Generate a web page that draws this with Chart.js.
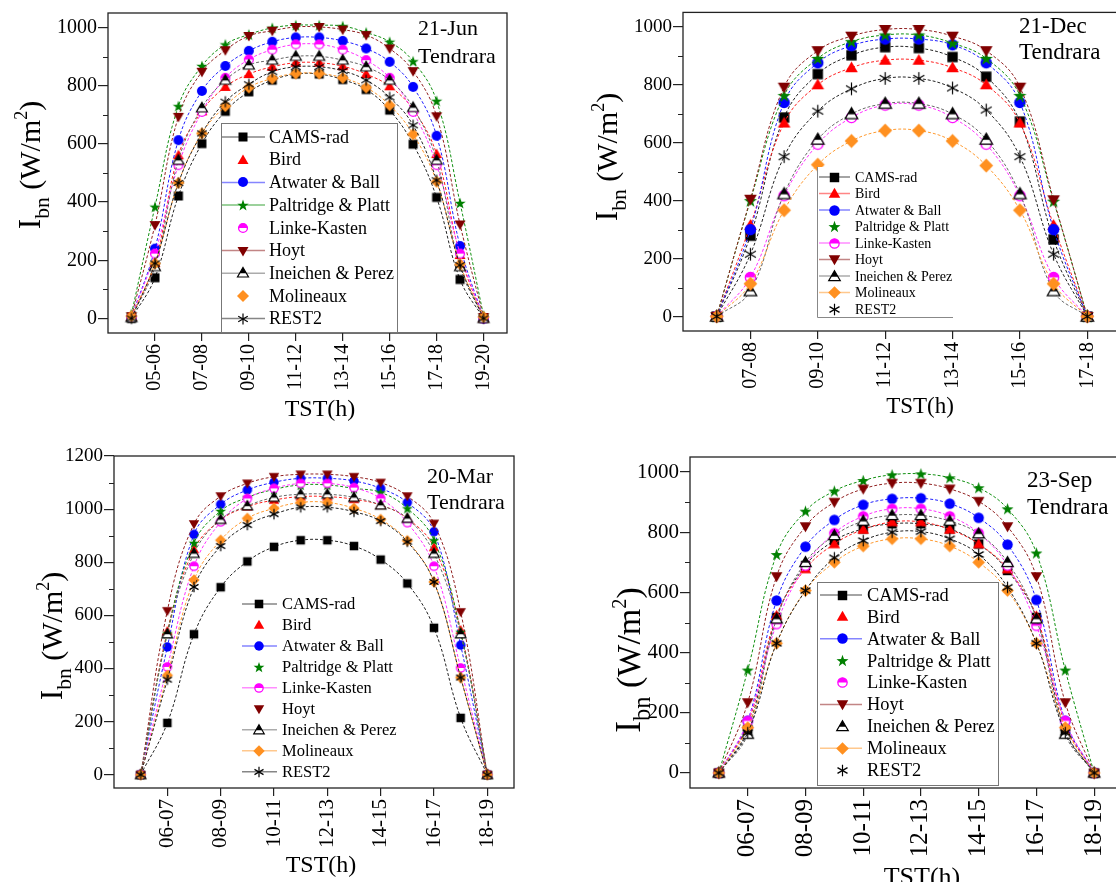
<!DOCTYPE html>
<html><head><meta charset="utf-8">
<script src="https://cdn.jsdelivr.net/npm/chart.js@4.4.1/dist/chart.umd.min.js"></script>
<style>
html,body{margin:0;padding:0;background:#fff;overflow:hidden;width:1116px;height:882px;}
canvas{position:absolute;}
</style></head><body>
<canvas id="c1" width="558" height="441" style="left:0;top:0"></canvas>
<canvas id="c2" width="600" height="441" style="left:558px;top:0"></canvas>
<canvas id="c3" width="558" height="441" style="left:0;top:441px"></canvas>
<canvas id="c4" width="600" height="441" style="left:558px;top:441px"></canvas>
<script>
// ---------- series meta ----------
const seriesNames = ['CAMS-rad','Bird','Atwater & Ball','Paltridge & Platt','Linke-Kasten','Hoyt','Ineichen & Perez','Molineaux','REST2'];
const seriesColors = ['#000000','#ff0000','#0000ff','#008000','#ff00ff','#800000','#000000','#ff9020','#000000'];
const lineColors   = ['#222222','#ff2020','#2020ff','#109010','#ff30ff','#902020','#666666','#ff9a30','#222222'];
const seriesMarkers = ['square','triangle','circle','star','halfCircle','triangleDown','halfTriangle','diamond','asterisk'];

// ---------- 21-Jun ----------
const junHours = [4,5,6,7,8,9,10,11,12,13,14,15,16,17,18,19];
const junCAMS  = [0,140,421,601,712,779,819,840,840,821,787,716,599,416,134,0];
const junBird  = [5,190,561,712,796,840,865,879,879,867,840,798,718,565,218,0];
const junAtw   = [5,240,613,782,868,920,951,966,966,954,928,882,796,628,249,0];
const junPalt  = [15,384,730,868,942,976,999,1008,1008,1005,983,951,884,748,397,10];
const junLinke = [5,223,527,710,827,890,924,942,942,924,888,827,710,527,223,0];
const junHoyt  = [8,321,693,848,922,971,989,1002,1002,993,974,928,850,695,323,5];
const junIne   = [3,178,544,724,819,871,888,901,901,888,865,819,725,544,178,0];
const junMol   = [8,189,466,636,730,794,825,842,842,827,794,733,633,470,186,5];
const junRest  = [0,189,466,636,745,805,848,865,865,851,819,760,664,475,183,0];
const junTickHours  = [5,7,9,11,13,15,17,19];
const junTickLabels = ['05-06','07-08','09-10','11-12','13-14','15-16','17-18','19-20'];

// ---------- 21-Dec ----------
const decHours = [6,7,8,9,10,11,12,13,14,15,16,17];
const decCAMS  = [0,279,687,837,902,930,927,896,828,673,266,0];
const decBird  = [0,315,668,800,859,885,885,859,800,668,315,0];
const decAtw   = [0,300,739,876,935,958,958,938,876,739,300,0];
const decPalt  = [0,400,763,891,949,972,972,944,891,763,398,0];
const decLinke = [0,135,417,595,687,730,730,687,595,417,135,0];
const decHoyt  = [0,405,792,918,968,991,991,968,918,792,403,0];
const decIne   = [0,88,423,611,699,735,735,699,611,423,88,0];
const decMol   = [0,113,367,524,606,642,642,606,521,367,113,0];
const decRest  = [0,215,552,709,786,822,822,789,713,552,215,0];
const decTickHours  = [7,9,11,13,15,17];
const decTickLabels = ['07-08','09-10','11-12','13-14','15-16','17-18'];

// ---------- 20-Mar ----------
const marHours = [5,6,7,8,9,10,11,12,13,14,15,16,17,18];
const marCAMS  = [0,195,529,706,803,858,883,883,861,810,720,553,214,0];
const marBird  = [0,540,848,959,1009,1034,1047,1047,1037,1015,965,856,544,0];
const marAtw   = [0,481,905,1018,1072,1101,1116,1116,1106,1078,1025,915,488,0];
const marPalt  = [0,532,873,993,1044,1074,1091,1091,1078,1063,1003,883,538,0];
const marLinke = [0,406,785,952,1040,1078,1097,1097,1081,1040,949,785,402,0];
const marHoyt  = [0,617,944,1049,1097,1122,1131,1131,1122,1100,1049,946,613,0];
const marIne   = [0,530,833,961,1012,1044,1056,1056,1044,1015,965,833,530,0];
const marMol   = [0,374,733,883,965,1003,1025,1025,1003,961,881,726,366,0];
const marRest  = [0,358,707,861,940,981,1007,1007,990,955,877,726,366,0];
const marTickHours  = [6,8,10,12,14,16,18];
const marTickLabels = ['06-07','08-09','10-11','12-13','14-15','16-17','18-19'];

// ---------- 23-Sep ----------
const sepHours = [5,6,7,8,9,10,11,12,13,14,15,16,17,18];
const sepCAMS  = [0,145,517,689,772,811,828,828,811,761,673,517,142,0];
const sepBird  = [0,162,523,678,761,809,834,834,809,761,678,521,162,0];
const sepAtw   = [0,173,573,752,841,891,911,913,895,848,759,575,173,0];
const sepPalt  = [0,342,726,870,937,972,991,994,981,948,878,731,342,0];
const sepLinke = [0,173,495,689,797,853,878,878,853,797,689,489,173,0];
const sepHoyt  = [0,234,653,819,900,944,963,963,944,903,819,653,234,0];
const sepIne   = [0,129,512,700,789,837,856,856,837,795,700,512,129,0];
const sepMol   = [0,151,431,606,700,754,778,778,754,700,606,431,151,0];
const sepRest  = [0,134,431,606,715,772,800,802,778,726,617,431,134,0];
const sepTickHours  = [6,8,10,12,14,16,18];
const sepTickLabels = ['06-07','08-09','10-11','12-13','14-15','16-17','18-19'];

const yTicks1000 = [0,200,400,600,800,1000];
const yTicks1200 = [0,200,400,600,800,1000,1200];

const FONT = '"Liberation Serif","Times New Roman",serif';
Chart.defaults.font.family = FONT;

// ---------- markers ----------
function makeMarker(type, color, s) {
  const n = Math.ceil(s * 1.4) + 4;
  const c = document.createElement('canvas');
  c.width = n; c.height = n;
  const g = c.getContext('2d');
  const m = n / 2, r = s / 2;
  g.fillStyle = color; g.strokeStyle = color; g.lineWidth = 1;
  const poly = (pts) => { g.beginPath(); pts.forEach((p, i) => i ? g.lineTo(p[0], p[1]) : g.moveTo(p[0], p[1])); g.closePath(); };
  if (type === 'square') {
    g.fillRect(m - r * 0.9, m - r * 0.9, r * 1.8, r * 1.8);
  } else if (type === 'triangle') {
    poly([[m, m - r * 1.1], [m + r * 1.1, m + r * 0.8], [m - r * 1.1, m + r * 0.8]]); g.fill();
  } else if (type === 'triangleDown') {
    poly([[m, m + r * 1.1], [m + r * 1.1, m - r * 0.8], [m - r * 1.1, m - r * 0.8]]); g.fill();
  } else if (type === 'circle') {
    g.beginPath(); g.arc(m, m, r, 0, Math.PI * 2); g.fill();
  } else if (type === 'star') {
    const pts = [];
    for (let i = 0; i < 10; i++) {
      const a = -Math.PI / 2 + i * Math.PI / 5;
      const rr = i % 2 ? r * 0.48 : r * 1.2;
      pts.push([m + rr * Math.cos(a), m + 0.6 + rr * Math.sin(a)]);
    }
    poly(pts); g.fill();
  } else if (type === 'halfCircle') {
    g.fillStyle = '#fff'; g.beginPath(); g.arc(m, m, r - 0.5, 0, Math.PI * 2); g.fill();
    g.fillStyle = color; g.beginPath(); g.arc(m, m, r - 0.5, Math.PI, Math.PI * 2); g.closePath(); g.fill();
    g.lineWidth = 1.3; g.beginPath(); g.arc(m, m, r - 0.6, 0, Math.PI * 2); g.stroke();
  } else if (type === 'halfTriangle') {
    const pts = [[m, m - r * 1.1], [m + r * 1.1, m + r * 0.8], [m - r * 1.1, m + r * 0.8]];
    g.fillStyle = '#fff'; poly(pts); g.fill();
    g.save(); g.beginPath(); g.rect(0, 0, n, m + r * 0.05); g.clip();
    g.fillStyle = color; poly(pts); g.fill(); g.restore();
    g.lineWidth = 1.2; poly(pts); g.stroke();
  } else if (type === 'diamond') {
    poly([[m, m - r * 1.2], [m + r * 1.2, m], [m, m + r * 1.2], [m - r * 1.2, m]]); g.fill();
  } else if (type === 'asterisk') {
    g.lineWidth = 1.2;
    for (let i = 0; i < 3; i++) {
      const a = Math.PI / 2 + i * Math.PI / 3;
      g.beginPath();
      g.moveTo(m + r * 1.1 * Math.cos(a), m + r * 1.1 * Math.sin(a));
      g.lineTo(m - r * 1.1 * Math.cos(a), m - r * 1.1 * Math.sin(a));
      g.stroke();
    }
  }
  return c;
}

// ---------- chart definitions ----------
const defs = [
  { id: 'c1', ox: 0, oy: 0, hours: junHours,
    series: [junCAMS, junBird, junAtw, junPalt, junLinke, junHoyt, junIne, junMol, junRest],
    xMin: 3, xMax: 20, yMin: -50, yMax: 1050, xTicks: junTickHours, xLabels: junTickLabels,
    yTicks: yTicks1000, pad: { left: 0, top: 13, right: 51, bottom: 0 }, yW: 108, xH: 108,
    ms: 10, xFont: 20, yFont: 20,
    date: { x: 418, y: [29, 57], size: 22, lines: ['21-Jun', 'Tendrara'] },
    yTitle: { cy: 165, base: 40, size: 30 },
    xTitle: { x: 320, y: 410, size: 24 },
    legend: { box: [221, 123, 397, 332], border: 'all', y0: 137, dy: 22.7, mx: 243, lx: [222, 265], tx: 269, size: 18,
      lines: [1, 0, 1, 1, 0, 1, 1, 0, 1], ms: 10 } },
  { id: 'c2', ox: 558, oy: 0, hours: decHours,
    series: [decCAMS, decBird, decAtw, decPalt, decLinke, decHoyt, decIne, decMol, decRest],
    xMin: 5, xMax: 18, yMin: -50, yMax: 1050, xTicks: decTickHours, xLabels: decTickLabels,
    yTicks: yTicks1000, pad: { left: 0, top: 5, right: 37, bottom: 0 }, yW: 125, xH: 110,
    ms: 11.5, xFont: 20, yFont: 19,
    date: { x: 1019, y: [27, 53], size: 23, lines: ['21-Dec', 'Tendrara'] },
    yTitle: { cy: 157, base: 617, size: 30 },
    xTitle: { x: 920, y: 407, size: 23 },
    legend: { box: [817, 167, 953, 317], border: 'lb', y0: 177, dy: 16.5, mx: 834, lx: [819, 850], tx: 855, size: 14,
      lines: [1, 1, 1, 0, 1, 1, 1, 1, 0], ms: 10.5 } },
  { id: 'c3', ox: 0, oy: 441, hours: marHours,
    series: [marCAMS, marBird, marAtw, marPalt, marLinke, marHoyt, marIne, marMol, marRest],
    xMin: 4, xMax: 19, yMin: -50, yMax: 1200, xTicks: marTickHours, xLabels: marTickLabels,
    yTicks: yTicks1200, pad: { left: 0, top: 15, right: 44, bottom: 0 }, yW: 114, xH: 94,
    ms: 9.5, xFont: 21, yFont: 19,
    date: { x: 427, y: [477, 503], size: 22, lines: ['20-Mar', 'Tendrara'] },
    yTitle: { cy: 636, base: 62, size: 30 },
    xTitle: { x: 321, y: 866, size: 24 },
    legend: { box: null, border: 'none', y0: 604, dy: 20.96, mx: 259, lx: [242, 277], tx: 282, size: 16.5,
      lines: [1, 0, 1, 0, 1, 0, 1, 1, 1], ms: 9.5 } },
  { id: 'c4', ox: 558, oy: 441, hours: sepHours,
    series: [sepCAMS, sepBird, sepAtw, sepPalt, sepLinke, sepHoyt, sepIne, sepMol, sepRest],
    xMin: 4, xMax: 19, yMin: -50, yMax: 1050, xTicks: sepTickHours, xLabels: sepTickLabels,
    yTicks: yTicks1000, pad: { left: 0, top: 16, right: 35, bottom: 0 }, yW: 132, xH: 94,
    ms: 10.5, xFont: 25, yFont: 21,
    date: { x: 1027, y: [481, 508], size: 23, lines: ['23-Sep', 'Tendrara'] },
    yTitle: { cy: 660, base: 640, size: 34 },
    xTitle: { x: 922, y: 878, size: 26 },
    legend: { box: [817, 582, 998, 785], border: 'all', y0: 595, dy: 21.9, mx: 842, lx: [820, 862], tx: 867, size: 18.4,
      lines: [1, 0, 1, 0, 0, 1, 0, 1, 0], ms: 10.5 } }
];

function drawYTitle(ctx, cx, cy, size) {
  // rotated: "I" + sub "bn" + " (W/m" + sup "2" + ")"
  const parts = [
    { t: 'I', f: size * 1.05, dy: 0 },
    { t: 'bn', f: size * 0.72, dy: size * 0.3 },
    { t: ' (W/m', f: size, dy: 0 },
    { t: '2', f: size * 0.6, dy: -size * 0.42 },
    { t: ')', f: size, dy: 0 }
  ];
  ctx.save();
  let total = 0;
  parts.forEach(p => { ctx.font = p.f + 'px ' + FONT; p.w = ctx.measureText(p.t).width; total += p.w; });
  ctx.translate(cx, cy);
  ctx.rotate(-Math.PI / 2);
  ctx.fillStyle = '#000';
  ctx.textBaseline = 'alphabetic';
  ctx.textAlign = 'left';
  let x = -total / 2;
  parts.forEach(p => { ctx.font = p.f + 'px ' + FONT; ctx.fillText(p.t, x, p.dy); x += p.w; });
  ctx.restore();
}

function makeExtras(d) {
  return {
    id: 'extras_' + d.id,
    afterDraw(chart) {
      const ctx = chart.ctx, a = chart.chartArea;
      const ox = d.ox, oy = d.oy;
      const ys = chart.scales.y;
      ctx.save();
      // frame
      ctx.strokeStyle = '#222'; ctx.lineWidth = 1.3;
      ctx.strokeRect(a.left, a.top, a.right - a.left, a.bottom - a.top);
      // minor y ticks
      ctx.lineWidth = 1;
      for (let i = 0; i < d.yTicks.length - 1; i++) {
        const v = (d.yTicks[i] + d.yTicks[i + 1]) / 2;
        const py = Math.round(ys.getPixelForValue(v)) + 0.5;
        ctx.beginPath(); ctx.moveTo(a.left - 5, py); ctx.lineTo(a.left, py); ctx.stroke();
      }
      // date text
      ctx.fillStyle = '#000'; ctx.textAlign = 'left'; ctx.textBaseline = 'middle';
      ctx.font = d.date.size + 'px ' + FONT;
      d.date.lines.forEach((t, i) => ctx.fillText(t, d.date.x - ox, d.date.y[i] - oy));
      // x title
      ctx.textAlign = 'center';
      ctx.font = d.xTitle.size + 'px ' + FONT;
      ctx.fillText('TST(h)', d.xTitle.x - ox, d.xTitle.y - oy);
      // y title
      drawYTitle(ctx, d.yTitle.base - ox, d.yTitle.cy - oy, d.yTitle.size);
      // legend
      const L = d.legend;
      if (L.box) {
        const [x0, y0, x1, y1] = L.box;
        if (L.border === 'all') {
          ctx.fillStyle = '#fff';
          ctx.fillRect(x0 - ox, y0 - oy, x1 - x0, y1 - y0);
          ctx.strokeStyle = '#777'; ctx.lineWidth = 1;
          ctx.strokeRect(x0 - ox + 0.5, y0 - oy + 0.5, x1 - x0, y1 - y0);
        } else if (L.border === 'lb') {
          ctx.fillStyle = '#fff';
          ctx.fillRect(x0 - ox, y0 - oy, x1 - x0, y1 - y0);
          ctx.strokeStyle = '#888'; ctx.lineWidth = 1;
          ctx.beginPath();
          ctx.moveTo(x0 - ox + 0.5, y0 - oy); ctx.lineTo(x0 - ox + 0.5, y1 - oy + 0.5); ctx.lineTo(x1 - ox, y1 - oy + 0.5);
          ctx.stroke();
        }
      }
      ctx.font = L.size + 'px ' + FONT;
      ctx.textAlign = 'left'; ctx.textBaseline = 'middle';
      seriesNames.forEach((name, i) => {
        const yy = L.y0 + i * L.dy - oy;
        if (L.lines[i]) {
          ctx.save();
          ctx.globalAlpha = 0.55;
          ctx.strokeStyle = lineColors[i]; ctx.lineWidth = 1.5;
          ctx.beginPath(); ctx.moveTo(L.lx[0] - ox, yy); ctx.lineTo(L.lx[1] - ox, yy); ctx.stroke();
          ctx.restore();
        }
        const mk = makeMarker(seriesMarkers[i], seriesColors[i], L.ms);
        ctx.drawImage(mk, Math.round(L.mx - ox - mk.width / 2), Math.round(yy - mk.height / 2));
        ctx.fillStyle = '#000';
        ctx.fillText(name, L.tx - ox, yy + 1);
      });
      ctx.restore();
    }
  };
}

defs.forEach(d => {
  const datasets = d.series.map((arr, i) => ({
    label: seriesNames[i],
    data: d.hours.map((h, j) => ({ x: h, y: arr[j] })),
    borderColor: lineColors[i],
    backgroundColor: seriesColors[i],
    borderWidth: 1,
    borderDash: [3, 2],
    tension: 0.4,
    fill: false,
    pointStyle: makeMarker(seriesMarkers[i], seriesColors[i], d.ms),
    pointRadius: d.ms / 2,
    pointHoverRadius: d.ms / 2,
    order: 9 - i
  }));
  new Chart(document.getElementById(d.id), {
    type: 'line',
    data: { datasets },
    options: {
      responsive: false, animation: false, events: [],
      layout: { padding: d.pad, autoPadding: false },
      plugins: { legend: { display: false }, tooltip: { enabled: false }, title: { display: false } },
      scales: {
        x: {
          type: 'linear', min: d.xMin, max: d.xMax,
          afterBuildTicks: s => { s.ticks = d.xTicks.map(v => ({ value: v })); },
          afterFit: s => { s.height = d.xH; },
          grid: { display: true, drawOnChartArea: false, drawTicks: true, tickLength: 8, color: '#222', lineWidth: 1.2 },
          border: { display: false },
          ticks: { autoSkip: false, maxRotation: 90, minRotation: 90, padding: 3, color: '#000',
            font: { family: FONT, size: d.xFont },
            callback: (v, i) => d.xLabels[i] }
        },
        y: {
          type: 'linear', min: d.yMin, max: d.yMax,
          afterBuildTicks: s => { s.ticks = d.yTicks.map(v => ({ value: v })); },
          afterFit: s => { s.width = d.yW; },
          grid: { display: true, drawOnChartArea: false, drawTicks: true, tickLength: 10, color: '#222', lineWidth: 1.2 },
          border: { display: false },
          ticks: { padding: 1, color: '#000', font: { family: FONT, size: d.yFont },
            callback: v => String(v) }
        }
      }
    },
    plugins: [makeExtras(d)]
  });
});
</script>
</body></html>
